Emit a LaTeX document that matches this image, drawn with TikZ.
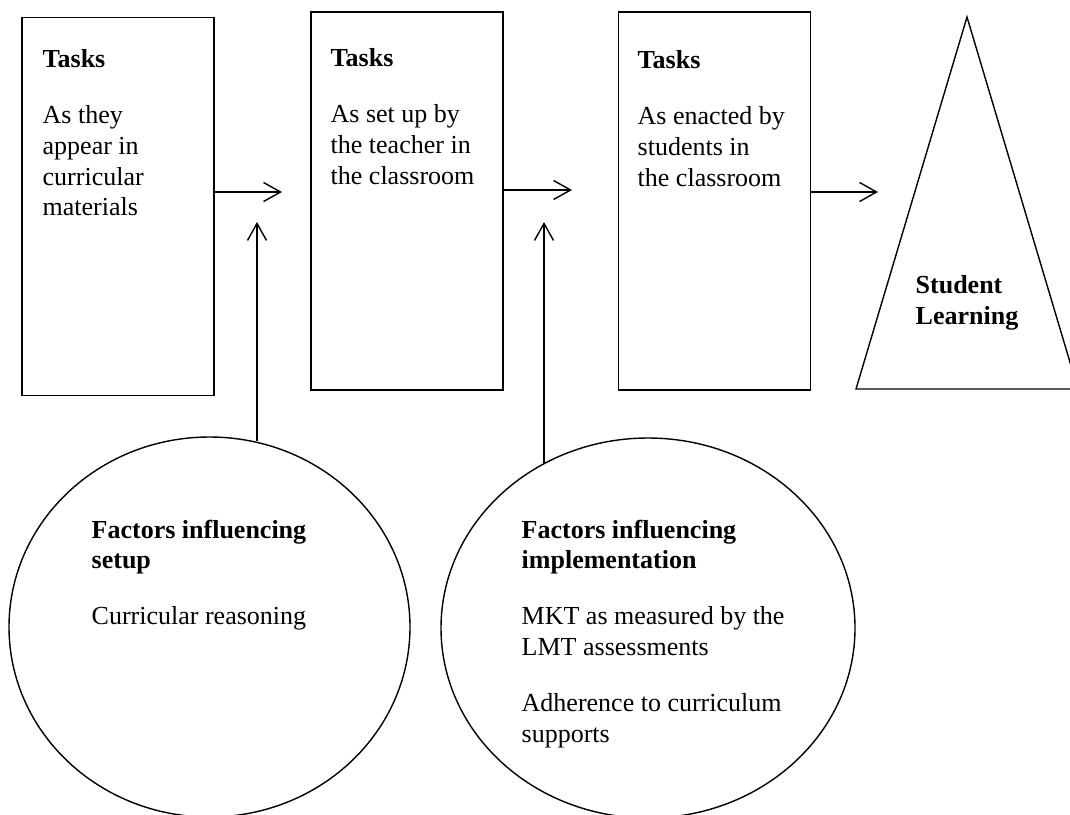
\documentclass[tikz,border=0pt]{standalone}
\usepackage{fontspec}
\setmainfont{Liberation Serif}
\usetikzlibrary{shapes.geometric, arrows.meta}

\begin{document}
\begin{tikzpicture}[
    x = 0.5pt, y = -0.5pt,
    line width = 0.7pt,
    font = \fontsize{13pt}{15.3pt}\selectfont,
    task/.style = {draw, rectangle, inner sep = 0pt, minimum width = 96pt, minimum height = 189pt},
    factor/.style = {draw, ellipse, inner sep = 0pt, minimum width = #1, minimum height = 190pt},
    txt/.style = {anchor = north west, align = left, inner sep = 0pt},
    flow/.style = {-{Straight Barb[length = 8.5pt, width = 9.5pt]}}
    ]

    % Determines the boundries
    \path [use as bounding box] (0,0) rectangle (1070,814);

    \def\gap{12.75pt}

    % The three stages of the tasks
    \node (taskA) [task] at (118,206.5) {};
    \node (taskB) [task] at (407,201) {};
    \node (taskC) [task] at (714.5,201) {};

    \node (txtA) [txt] at (42,49)  {\textbf{Tasks}\\[\gap] As they\\ appear in\\ curricular\\ materials};
    \node (txtB) [txt] at (330,48) {\textbf{Tasks}\\[\gap] As set up by\\ the teacher in\\ the classroom};
    \node (txtC) [txt] at (637,50) {\textbf{Tasks}\\[\gap] As enacted by\\ students in\\ the classroom};

    % Student learning
    \coordinate (top) at (967,17);
    \coordinate (baseL) at (856,389);
    \coordinate (baseR) at (1078,389);
    \draw (top) -- (baseL) -- (baseR) -- cycle;
    \node (learn) [txt] at (915,275) {\textbf{Student}\\ \textbf{Learning}};

    % Factors
    \node (facA) [factor = 200.5pt] at (209.5,627) {};
    \node (facB) [factor = 207pt] at (648,628) {};

    \node (txtD) [txt] at (91,519)  {\textbf{Factors influencing}\\ \textbf{setup}\\[\gap] Curricular reasoning};
    \node (txtE) [txt] at (521,519) {\textbf{Factors influencing}\\ \textbf{implementation}\\[\gap] MKT as measured by the\\ LMT assessments\\[\gap] Adherence to curriculum\\ supports};

    % Arrows between the stages
    \coordinate (endA) at (282,192);
    \coordinate (endB) at (572,190);
    \coordinate (endC) at (878,192);
    \draw[flow] (taskA.east |- endA) -- (endA);
    \draw[flow] (taskB.east |- endB) -- (endB);
    \draw[flow] (taskC.east |- endC) -- (endC);

    % Arrows from the factors
    \coordinate (upA) at (257,222);
    \coordinate (upB) at (544,222);
    \draw[flow] (upA |- facA.76) -- (upA);
    \draw[flow] (upB |- facB.122) -- (upB);

\end{tikzpicture}
\end{document}
